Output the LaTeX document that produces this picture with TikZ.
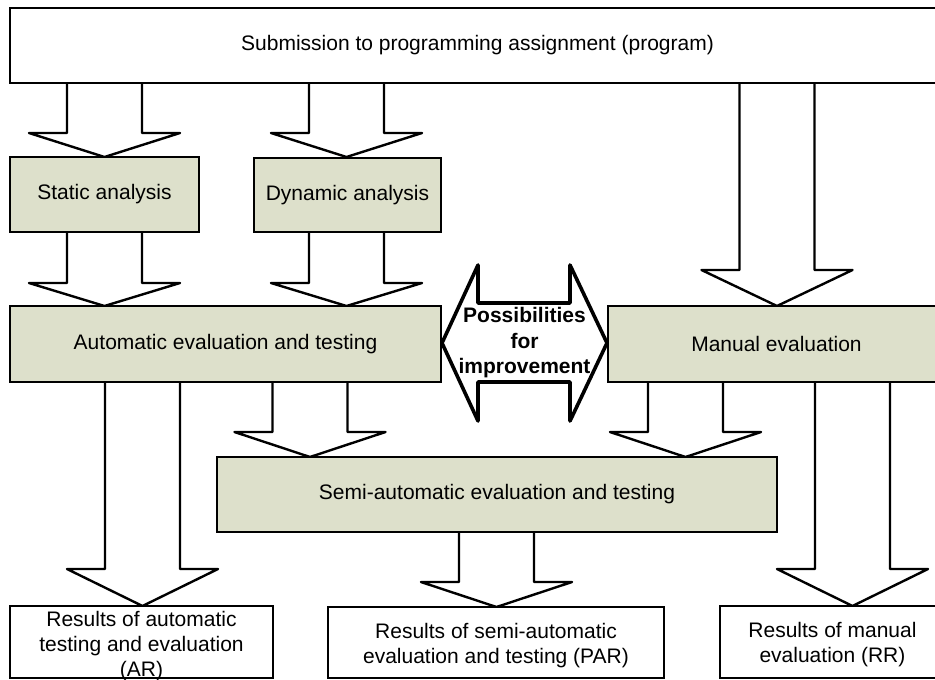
\documentclass[tikz,border=0pt]{standalone}
\usepackage{fontspec}
\setmainfont{Liberation Sans}
\definecolor{boxgreen}{RGB}{221,224,203}
\tikzset{
  fat/.style={draw=black, line width=2.4pt, line join=round},
  plainbox/.style={draw=black, line width=2.4pt, fill=white, inner sep=0pt, align=center},
  greenbox/.style={plainbox, fill=boxgreen},
  dbl/.style={draw=black, line width=3.6pt, fill=white, line join=round},
}
\newcommand\fatarrow[4]{%
  \draw[fat] ({#1-37.5},#2) -- ({#1-37.5},#3) -- ({#1-75.5},#3) -- (#1,#4)
    -- ({#1+75.5},#3) -- ({#1+37.5},#3) -- ({#1+37.5},#2);}
\begin{document}
\begin{tikzpicture}[x=1pt,y=-1pt,font=\fontsize{21}{25}\selectfont]
\useasboundingbox (0,0) rectangle (935,680);
\clip (0,0) rectangle (935,680);
\fill[white] (0,0) rectangle (935,680);

% block arrows (drawn first, boxes on top)
\fatarrow{104.5}{83}{133}{157}
\fatarrow{346.5}{83}{133}{157}
\fatarrow{777}{83}{270}{306}
\fatarrow{104.5}{232}{283}{306}
\fatarrow{346.5}{232}{283}{306}
\fatarrow{310}{382}{432}{457}
\fatarrow{685.5}{382}{432}{457}
\fatarrow{142.5}{382}{569}{606}
\fatarrow{496.5}{532}{582}{607}
\fatarrow{852.5}{382}{569}{606}

% boxes
\node[plainbox, minimum width=935pt, minimum height=75pt] (sub) at (477.5,45.5)
  {Submission to programming assignment (program)};
\node[greenbox, minimum width=189pt, minimum height=75pt] (stat) at (104.5,194.5) {Static analysis};
\node[greenbox, minimum width=187pt, minimum height=74pt] (dyn) at (347.5,195) {Dynamic analysis};
\node[greenbox, minimum width=431pt, minimum height=76pt] (auto) at (225.5,344) {Automatic evaluation and testing};
\node[greenbox, minimum width=337pt, minimum height=76pt] (man) at (776.5,344) {Manual evaluation};
\node[greenbox, minimum width=560pt, minimum height=75pt] (semi) at (497,494.5) {Semi-automatic evaluation and testing};
\node[plainbox, minimum width=263pt, minimum height=72pt] (ar) at (141.5,642) {};
\node[align=center, inner sep=0pt] (artext) at (141.5,646)
  {Results of automatic\\testing and evaluation\\(AR)};
\node[plainbox, minimum width=336pt, minimum height=71pt] (par) at (496,642.5) {};
\node[align=center, inner sep=0pt] (partext) at (496,645.5)
  {Results of semi-automatic\\evaluation and testing (PAR)};
\node[plainbox, minimum width=225pt, minimum height=72pt] (rr) at (832.5,642) {};
\node[align=center, inner sep=0pt] (rrtext) at (832.5,645)
  {Results of manual\\evaluation (RR)};

% double arrow
\draw[dbl] (442,343) -- (478,265) -- (478,303) -- (570,303) -- (570,265) -- (607,343)
  -- (570,421) -- (570,382) -- (478,382) -- (478,421) -- cycle;
\node[align=center, inner sep=0pt, font=\fontsize{21}{25.5}\selectfont\bfseries] (imp) at (524.5,343)
  {Possibilities\\for\\improvement};
\end{tikzpicture}
\end{document}
